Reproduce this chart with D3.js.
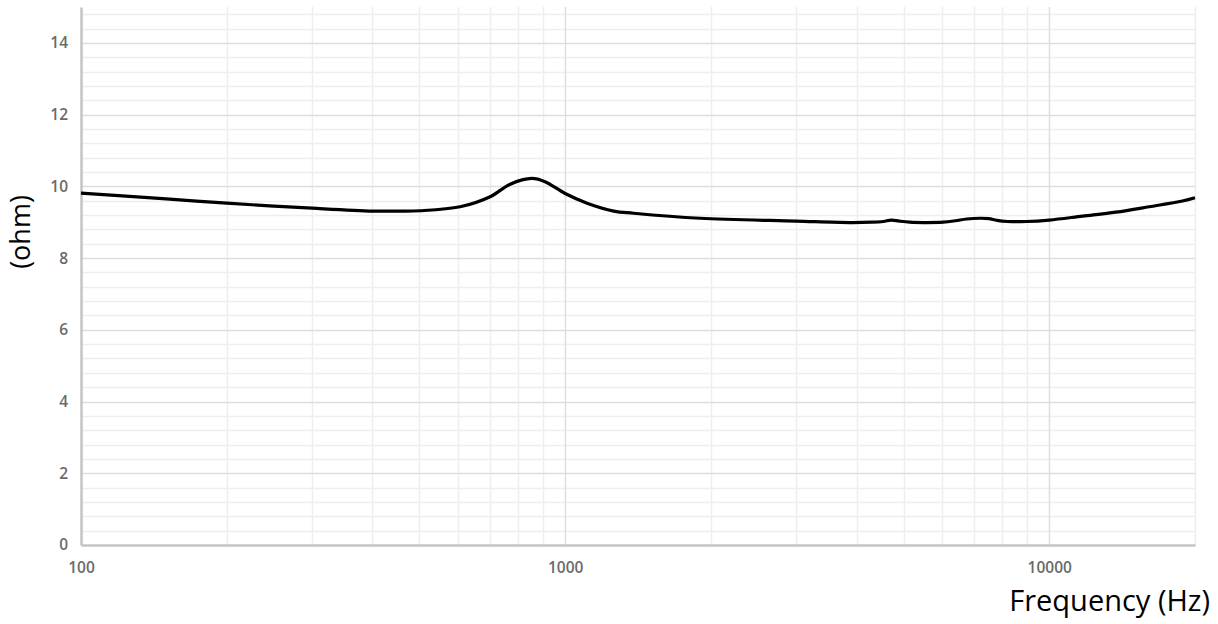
<!DOCTYPE html>
<html>
<head>
<meta charset="utf-8">
<script src="https://cdn.jsdelivr.net/npm/d3@7"></script>
<style>
  body { margin: 0; background: #fff; }
  svg { display: block; }
</style>
</head>
<body>
<div id="chart"></div>
<script>
// impedance curve
var freqs = [100, 150, 200, 300, 400, 456, 502, 607, 700, 770, 853, 909, 1000, 1110, 1260, 1385, 1900, 3000,
             3870, 4300, 4540, 4720, 4900, 5150, 5500, 6040, 6400, 6750, 7200, 7500, 7800, 8200, 8990, 10000,
             11720, 13730, 16080, 18840, 20000];
var ohms = [9.81, 9.65, 9.53, 9.39, 9.31, 9.31, 9.32, 9.43, 9.71, 10.06, 10.22, 10.13, 9.80, 9.53, 9.31, 9.25, 9.11, 9.03,
            8.99, 9.0, 9.02, 9.06, 9.03, 9.0, 8.99, 9.0, 9.04, 9.09, 9.11, 9.10, 9.05, 9.02, 9.02, 9.06,
            9.17, 9.28, 9.43, 9.59, 9.68];
var xTickLabels = [100, 1000, 10000];
var yTickLabels = [0, 2, 4, 6, 8, 10, 12, 14];

var W = 1218, H = 624;
var margin = {top: 7, right: 23, bottom: 79, left: 81},
    width = W - margin.left - margin.right,
    height = H - margin.top - margin.bottom;

var x = d3.scaleLog().domain([100, 20000]).range([0, width]);
var y = d3.scaleLinear().domain([0, 15]).range([height, 0]);

var svg = d3.select("#chart").append("svg")
    .attr("width", W)
    .attr("height", H);
var g = svg.append("g")
    .attr("transform", "translate(" + margin.left + "," + margin.top + ")");

// minor horizontal grid every 0.4
var minorY = d3.range(1, 38).map(function (i) { return +(i * 0.4).toFixed(1); })
    .filter(function (v) { return Math.abs(v / 2 - Math.round(v / 2)) > 1e-6 && v <= 15; });
g.selectAll(".ygm").data(minorY).enter().append("line")
    .attr("x1", 0).attr("x2", width)
    .attr("y1", function (d) { return Math.round(y(d)) + 0.5; })
    .attr("y2", function (d) { return Math.round(y(d)) + 0.5; })
    .style("stroke", "#eeeeee").style("stroke-width", 1.5);

// minor vertical grid
var minorX = [];
[100, 1000, 10000].forEach(function (dec) {
    for (var k = 2; k <= 9; k++) if (dec * k <= 20000) minorX.push(dec * k);
});
g.selectAll(".xgm").data(minorX).enter().append("line")
    .attr("y1", 0).attr("y2", height)
    .attr("x1", function (d) { return Math.round(x(d)) + 0.5; })
    .attr("x2", function (d) { return Math.round(x(d)) + 0.5; })
    .style("stroke", "#eeeeee").style("stroke-width", 1.5);

// major grid
g.selectAll(".ygM").data(yTickLabels.slice(1)).enter().append("line")
    .attr("x1", 0).attr("x2", width)
    .attr("y1", function (d) { return Math.round(y(d)) + 0.5; })
    .attr("y2", function (d) { return Math.round(y(d)) + 0.5; })
    .style("stroke", "#dddddd").style("stroke-width", 1.5);
g.selectAll(".xgM").data([1000, 10000]).enter().append("line")
    .attr("y1", 0).attr("y2", height)
    .attr("x1", function (d) { return Math.round(x(d)) + 0.5; })
    .attr("x2", function (d) { return Math.round(x(d)) + 0.5; })
    .style("stroke", "#dddddd").style("stroke-width", 1.5);

// axes
var yAxis = g.append("g")
    .call(d3.axisLeft(y).tickValues(yTickLabels).tickSize(0).tickPadding(13).tickFormat(d3.format("d")));
var xAxis = g.append("g")
    .attr("transform", "translate(0," + height + ")")
    .call(d3.axisBottom(x).tickValues(xTickLabels).tickSize(0).tickPadding(17).tickFormat(d3.format("d")));
[yAxis, xAxis].forEach(function (a) {
    a.select(".domain").style("stroke", "#c4c4c4").style("stroke-width", 2.5);
    a.selectAll("text")
        .style("font-family", "'Open Sans', sans-serif")
        .style("font-size", "15.5px")
        .style("font-weight", "600")
        .style("fill", "#6a6a6a");
});

// the curve
var line = d3.line()
    .x(function (d, i) { return x(freqs[i]); })
    .y(function (d) { return y(d); })
    .curve(d3.curveCatmullRom.alpha(0.5));
g.append("path")
    .datum(ohms)
    .attr("d", line)
    .style("fill", "none")
    .style("stroke", "#000")
    .style("stroke-width", 3.2)
    .style("stroke-linejoin", "round");

// axis titles
svg.append("text")
    .attr("text-anchor", "middle")
    .attr("transform", "translate(30,232)rotate(-90)")
    .style("font-family", "'Open Sans', sans-serif")
    .style("font-size", "27px")
    .style("fill", "#000")
    .text("(ohm)");

svg.append("text")
    .attr("text-anchor", "end")
    .attr("x", 1210)
    .attr("y", 611)
    .style("font-family", "'Open Sans', sans-serif")
    .style("font-size", "29px")
    .style("fill", "#000")
    .text("Frequency (Hz)");
</script>
</body>
</html>
